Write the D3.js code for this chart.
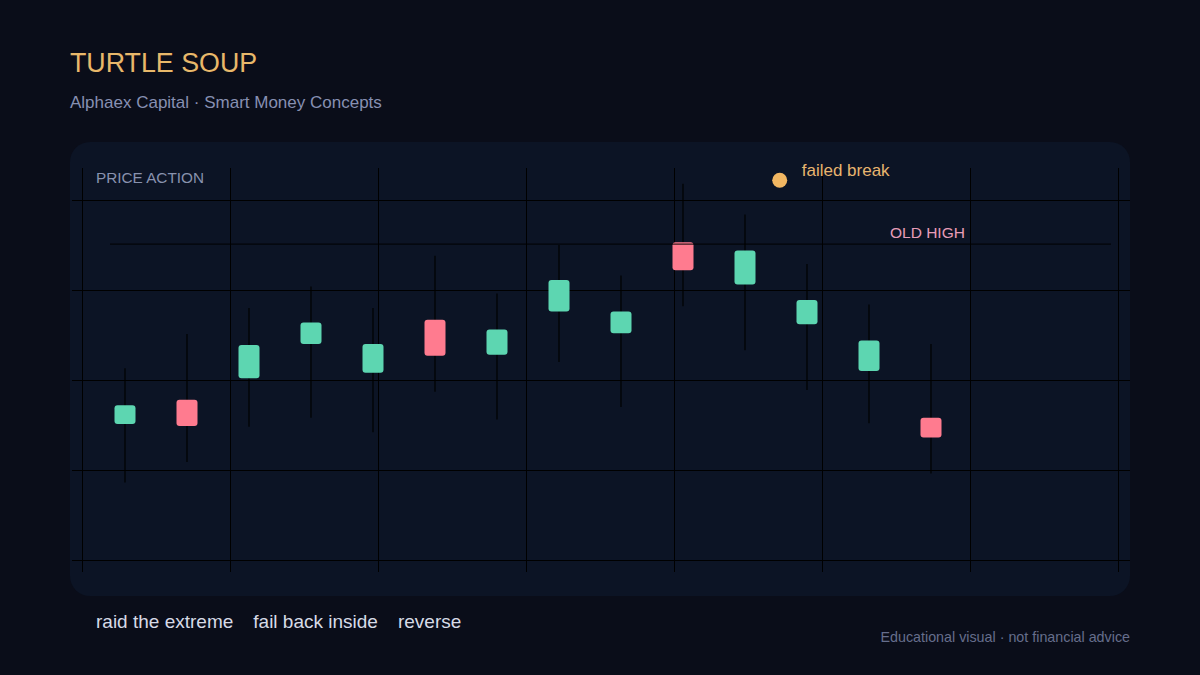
<!DOCTYPE html>
<html>
<head>
<meta charset="utf-8">
<script src="https://cdn.jsdelivr.net/npm/d3@7"></script>
<style>
  html, body { margin: 0; padding: 0; background: #0a0d19; }
  svg { display: block; font-family: "Liberation Sans", Arial, sans-serif; }
</style>
</head>
<body>
<div id="chart"></div>
<script>
// Candle data
const opens  = [115.1, 117.8, 120.2, 124.0, 120.8, 126.7, 122.8, 127.6, 125.2, 135.3, 130.6, 126.2, 121.0, 115.8];
const closes = [117.2, 114.9, 123.9, 126.4, 124.0, 122.7, 125.6, 131.1, 127.6, 132.2, 134.4, 128.9, 124.4, 113.6];
const highs  = [121.3, 125.1, 128.0, 130.4, 128.0, 133.8, 129.6, 135.0, 131.6, 141.8, 138.4, 132.9, 128.4, 124.0];
const lows   = [108.6, 110.9, 114.8, 115.8, 114.2, 118.7, 115.6, 122.0, 117.0, 128.2, 123.3, 118.9, 115.2, 109.6];

const oldHigh = 135.1;
const failedBreak = { index: 10.56, price: 142.2 };
const priceTicks = [100, 110, 120, 130, 140];
const phases = ["raid the extreme", "fail back inside", "reverse"];

const width = 1200, height = 675;
const panel = { x: 70, y: 142, w: 1060, h: 454 };

const svg = d3.select("#chart")
    .append("svg")
    .attr("width", width)
    .attr("height", height);

svg.append("rect")
    .attr("width", width)
    .attr("height", height)
    .attr("fill", "#0a0d19");

// Title
svg.append("text")
    .attr("x", 70)
    .attr("y", 72)
    .attr("fill", "#e8b86a")
    .style("font-size", "26.8px")
    .text("TURTLE SOUP");

svg.append("text")
    .attr("x", 70)
    .attr("y", 108)
    .attr("fill", "#8790b2")
    .style("font-size", "17px")
    .text("Alphaex Capital · Smart Money Concepts");

// Panel
svg.append("rect")
    .attr("x", panel.x)
    .attr("y", panel.y)
    .attr("width", panel.w)
    .attr("height", panel.h)
    .attr("rx", 20)
    .attr("fill", "#0c1425");

// Scales
const x = d3.scaleLinear()
    .domain([0, opens.length - 1])
    .range([125, 931]);

const y = d3.scaleLinear()
    .domain([100, 140])
    .range([560, 200]);

const xGrid = d3.scaleLinear()
    .domain([0, 7])
    .range([82, 1118]);

// Grid
const grid = svg.append("g").attr("stroke", "#000").attr("stroke-width", 1);

grid.selectAll("line.h")
    .data(priceTicks)
    .enter()
    .append("line")
    .attr("class", "h")
    .attr("x1", 72)
    .attr("x2", 1130)
    .attr("y1", d => y(d) + 0.5)
    .attr("y2", d => y(d) + 0.5);

grid.selectAll("line.v")
    .data(d3.range(8))
    .enter()
    .append("line")
    .attr("class", "v")
    .attr("x1", d => xGrid(d) + 0.5)
    .attr("x2", d => xGrid(d) + 0.5)
    .attr("y1", 168)
    .attr("y2", 572);

svg.append("text")
    .attr("x", 96)
    .attr("y", 183)
    .attr("fill", "#8892ae")
    .style("font-size", "15.3px")
    .text("PRICE ACTION");

// Candles
const candles = opens.map((o, i) => ({ i, o, c: closes[i], h: highs[i], l: lows[i] }));
const up = "#5dd6b1", down = "#ff7b8f";

const g = svg.append("g");

g.selectAll("line.wick")
    .data(candles)
    .enter()
    .append("line")
    .attr("class", "wick")
    .attr("x1", d => x(d.i))
    .attr("x2", d => x(d.i))
    .attr("y1", d => y(d.h))
    .attr("y2", d => y(d.l))
    .attr("stroke", "#000")
    .attr("stroke-width", 1.2);

g.selectAll("rect.body")
    .data(candles)
    .enter()
    .append("rect")
    .attr("class", "body")
    .attr("x", d => x(d.i) - 10.5)
    .attr("width", 21)
    .attr("y", d => y(Math.max(d.o, d.c)))
    .attr("height", d => Math.abs(y(d.o) - y(d.c)))
    .attr("rx", 3)
    .attr("fill", d => d.c >= d.o ? up : down);

// Old high
svg.append("line")
    .attr("x1", 110)
    .attr("x2", 1111)
    .attr("y1", y(oldHigh))
    .attr("y2", y(oldHigh))
    .attr("stroke", "#000")
    .attr("stroke-width", 1);

svg.append("text")
    .attr("x", 890)
    .attr("y", y(oldHigh) - 6)
    .attr("fill", "#e89cb8")
    .style("font-size", "15.5px")
    .text("OLD HIGH");

// Failed break marker
svg.append("circle")
    .attr("cx", x(failedBreak.index))
    .attr("cy", y(failedBreak.price))
    .attr("r", 7.5)
    .attr("fill", "#f2b762");

svg.append("text")
    .attr("x", x(failedBreak.index) + 22)
    .attr("y", y(failedBreak.price) - 4)
    .attr("fill", "#e8b56f")
    .style("font-size", "17px")
    .text("failed break");

// Footer phases
let fx = 96;
phases.forEach(p => {
    const t = svg.append("text")
        .attr("x", fx)
        .attr("y", 628)
        .attr("fill", "#d7dbe7")
        .style("font-size", "19px")
        .text(p);
    fx += t.node().getComputedTextLength() + 20;
});

svg.append("text")
    .attr("x", 1130)
    .attr("y", 642)
    .attr("text-anchor", "end")
    .attr("fill", "#666e8c")
    .style("font-size", "14.3px")
    .text("Educational visual · not financial advice");
</script>
</body>
</html>
